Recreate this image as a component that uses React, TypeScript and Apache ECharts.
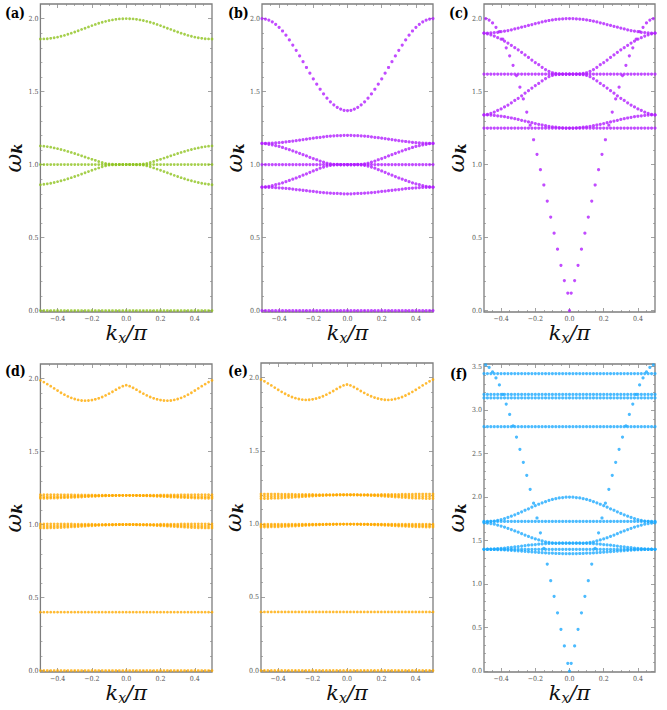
import React, { useEffect, useRef } from "react";
import * as echarts from "echarts";

// ---------- sampling grids ----------
const kHalf = [0, 0.02, 0.04, 0.06, 0.08, 0.1, 0.12, 0.14, 0.16, 0.18, 0.2, 0.22, 0.24, 0.26, 0.28, 0.3, 0.32, 0.34, 0.36, 0.38, 0.4, 0.42, 0.44, 0.46, 0.48, 0.5];
const kOdd = [0.01, 0.03, 0.05, 0.07, 0.09, 0.11, 0.13, 0.15, 0.17, 0.19, 0.21, 0.23, 0.25, 0.27, 0.29, 0.31, 0.33, 0.35, 0.37, 0.39, 0.41, 0.43, 0.45, 0.47, 0.49];

// ---------- tick labels ----------
const xMajor = [-0.4, -0.2, 0, 0.2, 0.4];
const xMinor = [-0.45, -0.35, -0.3, -0.25, -0.15, -0.1, -0.05, 0.05, 0.1, 0.15, 0.25, 0.3, 0.35, 0.45];
const yMajor2 = [0, 0.5, 1, 1.5, 2];
const yMinor2 = [0.1, 0.2, 0.3, 0.4, 0.6, 0.7, 0.8, 0.9, 1.1, 1.2, 1.3, 1.4, 1.6, 1.7, 1.8, 1.9];
const yMajor35 = [0, 0.5, 1, 1.5, 2, 2.5, 3, 3.5];
const yMinor35 = [0.1, 0.2, 0.3, 0.4, 0.6, 0.7, 0.8, 0.9, 1.1, 1.2, 1.3, 1.4, 1.6, 1.7, 1.8, 1.9, 2.1, 2.2, 2.3, 2.4, 2.6, 2.7, 2.8, 2.9, 3.1, 3.2, 3.3, 3.4];

// ---------- panel (a) : omega at kHalf (mirrored for k<0) ----------
const aTop = [2.000, 1.999, 1.998, 1.995, 1.991, 1.987, 1.981, 1.975, 1.968, 1.960, 1.952, 1.943, 1.934, 1.926, 1.917, 1.908, 1.900, 1.893, 1.885, 1.879, 1.873, 1.869, 1.865, 1.862, 1.861, 1.860];
const aUpper = [1.000, 1.000, 1.000, 1.001, 1.002, 1.004, 1.008, 1.014, 1.021, 1.029, 1.036, 1.044, 1.052, 1.060, 1.068, 1.076, 1.083, 1.090, 1.097, 1.103, 1.109, 1.114, 1.119, 1.123, 1.126, 1.128];
const aLower = [1.000, 1.000, 1.000, 0.999, 0.998, 0.996, 0.991, 0.985, 0.977, 0.969, 0.961, 0.952, 0.944, 0.935, 0.926, 0.918, 0.910, 0.903, 0.895, 0.889, 0.883, 0.877, 0.872, 0.868, 0.865, 0.862];
const aFlat = [1.0, 0.0];

// ---------- panel (b) ----------
const bTop = [1.370, 1.372, 1.380, 1.392, 1.409, 1.430, 1.455, 1.484, 1.516, 1.551, 1.587, 1.626, 1.665, 1.705, 1.744, 1.783, 1.819, 1.854, 1.886, 1.915, 1.940, 1.961, 1.978, 1.990, 1.997, 2.000];
const bHigh = [1.200, 1.200, 1.199, 1.198, 1.197, 1.195, 1.193, 1.190, 1.187, 1.184, 1.181, 1.178, 1.174, 1.171, 1.167, 1.164, 1.161, 1.158, 1.155, 1.152, 1.150, 1.148, 1.147, 1.146, 1.145, 1.145];
const bUpper = [1.000, 1.000, 1.000, 1.001, 1.002, 1.005, 1.009, 1.016, 1.024, 1.033, 1.041, 1.050, 1.059, 1.068, 1.077, 1.086, 1.094, 1.102, 1.110, 1.117, 1.124, 1.129, 1.135, 1.139, 1.143, 1.145];
const bLower = [1.000, 1.000, 1.000, 0.999, 0.998, 0.995, 0.990, 0.983, 0.975, 0.965, 0.956, 0.947, 0.937, 0.927, 0.918, 0.908, 0.900, 0.891, 0.883, 0.875, 0.868, 0.862, 0.856, 0.851, 0.847, 0.845];
const bLow = [0.800, 0.800, 0.801, 0.802, 0.803, 0.804, 0.806, 0.808, 0.810, 0.813, 0.816, 0.818, 0.821, 0.824, 0.827, 0.829, 0.832, 0.835, 0.837, 0.839, 0.841, 0.842, 0.843, 0.844, 0.845, 0.845];
const bFlat = [1.0, 0.0];

// ---------- panel (c) ----------
const cTop = [2.000, 2.000, 1.998, 1.997, 1.994, 1.991, 1.987, 1.982, 1.977, 1.971, 1.966, 1.959, 1.953, 1.947, 1.941, 1.935, 1.929, 1.923, 1.918, 1.914, 1.910, 1.906, 1.904, 1.902, 1.900, 1.900];
const cUpper = [1.620, 1.620, 1.620, 1.622, 1.624, 1.629, 1.638, 1.651, 1.666, 1.684, 1.699, 1.716, 1.734, 1.751, 1.769, 1.786, 1.801, 1.817, 1.832, 1.845, 1.859, 1.869, 1.880, 1.889, 1.896, 1.900];
const cLower = [1.620, 1.620, 1.620, 1.618, 1.616, 1.611, 1.602, 1.589, 1.574, 1.556, 1.541, 1.524, 1.506, 1.489, 1.471, 1.454, 1.439, 1.423, 1.408, 1.395, 1.381, 1.371, 1.360, 1.351, 1.344, 1.340];
const cLow = [1.250, 1.250, 1.251, 1.253, 1.256, 1.259, 1.262, 1.266, 1.271, 1.276, 1.281, 1.287, 1.292, 1.298, 1.303, 1.309, 1.314, 1.319, 1.324, 1.328, 1.331, 1.334, 1.337, 1.339, 1.340, 1.340];
const cFlat = [1.62, 1.25];
const cSteep = [0.12, 0.205, 0.31, 0.42, 0.53, 0.64, 0.75, 0.86, 0.965, 1.07, 1.17, 1.27, 1.36, 1.45, 1.53, 1.61, 1.68, 1.745, 1.80, 1.86, 1.91, 1.94, 1.97, 1.99, 2.0];
const cSteepZero = 0.0;

// ---------- panel (d) ----------
const dTop = [1.955, 1.948, 1.937, 1.924, 1.910, 1.897, 1.885, 1.874, 1.865, 1.858, 1.853, 1.850, 1.849, 1.850, 1.854, 1.860, 1.868, 1.878, 1.890, 1.903, 1.918, 1.933, 1.948, 1.962, 1.976, 1.988];
const dHighA = [1.200, 1.200, 1.200, 1.200, 1.200, 1.200, 1.201, 1.201, 1.201, 1.201, 1.202, 1.202, 1.202, 1.203, 1.203, 1.203, 1.204, 1.204, 1.204, 1.204, 1.205, 1.205, 1.205, 1.205, 1.205, 1.205];
const dHighB = [1.200, 1.200, 1.200, 1.200, 1.199, 1.199, 1.199, 1.198, 1.198, 1.197, 1.197, 1.196, 1.195, 1.195, 1.194, 1.193, 1.193, 1.192, 1.192, 1.191, 1.191, 1.191, 1.190, 1.190, 1.190, 1.190];
const dHighC = [1.200, 1.200, 1.200, 1.199, 1.199, 1.198, 1.197, 1.196, 1.195, 1.194, 1.193, 1.192, 1.191, 1.189, 1.188, 1.187, 1.186, 1.185, 1.184, 1.183, 1.182, 1.181, 1.181, 1.180, 1.180, 1.180];
const dMidA = [1.000, 1.000, 1.000, 1.000, 1.000, 1.000, 1.001, 1.001, 1.001, 1.001, 1.002, 1.002, 1.002, 1.003, 1.003, 1.003, 1.004, 1.004, 1.004, 1.004, 1.005, 1.005, 1.005, 1.005, 1.005, 1.005];
const dMidB = [1.000, 1.000, 1.000, 1.000, 0.999, 0.999, 0.999, 0.998, 0.998, 0.997, 0.997, 0.996, 0.995, 0.995, 0.994, 0.993, 0.993, 0.992, 0.992, 0.991, 0.991, 0.991, 0.990, 0.990, 0.990, 0.990];
const dMidC = [1.000, 1.000, 1.000, 0.999, 0.999, 0.998, 0.997, 0.996, 0.995, 0.993, 0.992, 0.991, 0.989, 0.988, 0.986, 0.985, 0.984, 0.982, 0.981, 0.980, 0.979, 0.978, 0.978, 0.977, 0.977, 0.977];
const dFlat = [0.4, 0.0];

// ---------- panel (e) ----------
const eTop = [1.953, 1.947, 1.936, 1.923, 1.909, 1.896, 1.884, 1.873, 1.864, 1.857, 1.852, 1.849, 1.848, 1.850, 1.854, 1.860, 1.868, 1.878, 1.890, 1.903, 1.917, 1.932, 1.947, 1.961, 1.975, 1.987];
const eHighA = [1.200, 1.200, 1.200, 1.200, 1.200, 1.200, 1.201, 1.201, 1.201, 1.201, 1.202, 1.202, 1.202, 1.203, 1.203, 1.203, 1.204, 1.204, 1.204, 1.204, 1.205, 1.205, 1.205, 1.205, 1.205, 1.205];
const eHighB = [1.200, 1.200, 1.200, 1.200, 1.199, 1.199, 1.199, 1.198, 1.198, 1.197, 1.197, 1.196, 1.195, 1.195, 1.194, 1.193, 1.193, 1.192, 1.192, 1.191, 1.191, 1.191, 1.190, 1.190, 1.190, 1.190];
const eHighC = [1.200, 1.200, 1.200, 1.199, 1.198, 1.198, 1.197, 1.195, 1.194, 1.193, 1.191, 1.190, 1.188, 1.187, 1.185, 1.184, 1.182, 1.181, 1.180, 1.178, 1.177, 1.177, 1.176, 1.175, 1.175, 1.175];
const eMidB = [1.000, 1.000, 1.000, 1.000, 0.999, 0.999, 0.999, 0.998, 0.998, 0.997, 0.997, 0.996, 0.995, 0.995, 0.994, 0.993, 0.993, 0.992, 0.992, 0.991, 0.991, 0.991, 0.990, 0.990, 0.990, 0.990];
const eMidC = [1.000, 1.000, 1.000, 0.999, 0.999, 0.998, 0.997, 0.996, 0.995, 0.994, 0.993, 0.992, 0.991, 0.989, 0.988, 0.987, 0.986, 0.985, 0.984, 0.983, 0.982, 0.981, 0.981, 0.980, 0.980, 0.980];
const eFlat = [1.0, 0.4, 0.0];

// ---------- panel (f) ----------
const fTop = [2.000, 1.999, 1.995, 1.990, 1.982, 1.973, 1.962, 1.948, 1.934, 1.918, 1.902, 1.884, 1.866, 1.849, 1.831, 1.813, 1.797, 1.781, 1.767, 1.753, 1.742, 1.733, 1.725, 1.720, 1.716, 1.715];
const fUpper = [1.470, 1.470, 1.470, 1.471, 1.472, 1.475, 1.479, 1.486, 1.496, 1.508, 1.519, 1.533, 1.548, 1.564, 1.580, 1.597, 1.611, 1.627, 1.642, 1.656, 1.667, 1.679, 1.689, 1.696, 1.701, 1.705];
const fLower = [1.470, 1.470, 1.470, 1.470, 1.469, 1.469, 1.467, 1.465, 1.462, 1.459, 1.455, 1.451, 1.447, 1.442, 1.437, 1.432, 1.428, 1.423, 1.419, 1.415, 1.411, 1.408, 1.405, 1.403, 1.401, 1.400];
const fBottom = [1.350, 1.350, 1.351, 1.352, 1.353, 1.355, 1.357, 1.359, 1.362, 1.364, 1.367, 1.370, 1.373, 1.377, 1.380, 1.383, 1.386, 1.388, 1.391, 1.393, 1.395, 1.397, 1.398, 1.399, 1.400, 1.400];
const fFlat = [3.42, 3.18, 3.14, 2.81, 1.72, 1.40];
const fSteep = [0.09, 0.29, 0.48, 0.67, 0.86, 1.04, 1.23, 1.41, 1.59, 1.76, 1.93, 2.09, 2.25, 2.40, 2.55, 2.69, 2.82, 2.95, 3.07, 3.18, 3.29, 3.37, 3.44, 3.49, 3.52];
const fSteepZero = 0.0;

// ---------- helpers ----------
function band(half: number[]): number[][] {
  const pts: number[][] = [];
  for (let i = half.length - 1; i >= 1; i--) pts.push([-kHalf[i], half[i]]);
  for (let i = 0; i < half.length; i++) pts.push([kHalf[i], half[i]]);
  return pts;
}
function flat(levels: number[]): number[][] {
  const pts: number[][] = [];
  levels.forEach((lv) => {
    for (let i = kHalf.length - 1; i >= 1; i--) pts.push([-kHalf[i], lv]);
    for (let i = 0; i < kHalf.length; i++) pts.push([kHalf[i], lv]);
  });
  return pts;
}
function steep(vals: number[], zero: number): number[][] {
  const pts: number[][] = [[0, zero]];
  vals.forEach((v, i) => {
    pts.push([-kOdd[i], v]);
    pts.push([kOdd[i], v]);
  });
  return pts;
}

const GREEN = "#8fc31f";
const PURPLE = "#b21eff";
const ORANGE = "#ffaa00";
const BLUE = "#1eaaff";

const panels = [
  { label: "(a)", color: GREEN, size: 2.8, ymax: 2.1, yMaj: yMajor2, yMin: yMinor2,
    data: [...band(aTop), ...band(aUpper), ...band(aLower), ...flat(aFlat)],
    grid: { left: 39, top: 4, width: 173, height: 308 }, lx: 5, ly: 6 },
  { label: "(b)", color: PURPLE, size: 3.2, ymax: 2.1, yMaj: yMajor2, yMin: yMinor2,
    data: [...band(bTop), ...band(bHigh), ...band(bUpper), ...band(bLower), ...band(bLow), ...flat(bFlat)],
    grid: { left: 262, top: 4, width: 171, height: 308 }, lx: 228, ly: 6 },
  { label: "(c)", color: PURPLE, size: 3.2, ymax: 2.1, yMaj: yMajor2, yMin: yMinor2,
    data: [...band(cTop), ...band(cUpper), ...band(cLower), ...band(cLow), ...flat(cFlat), ...steep(cSteep, cSteepZero)],
    grid: { left: 484, top: 4, width: 171, height: 308 }, lx: 449, ly: 6 },
  { label: "(d)", color: ORANGE, size: 2.8, ymax: 2.1, yMaj: yMajor2, yMin: yMinor2,
    data: [...band(dTop), ...band(dHighA), ...band(dHighB), ...band(dHighC), ...band(dMidA), ...band(dMidB), ...band(dMidC), ...flat(dFlat)],
    grid: { left: 39, top: 364, width: 173, height: 308 }, lx: 5, ly: 364 },
  { label: "(e)", color: ORANGE, size: 2.8, ymax: 2.1, yMaj: yMajor2, yMin: yMinor2,
    data: [...band(eTop), ...band(eHighA), ...band(eHighB), ...band(eHighC), ...band(eMidB), ...band(eMidC), ...flat(eFlat)],
    grid: { left: 261, top: 363, width: 172, height: 309 }, lx: 228, ly: 364 },
  { label: "(f)", color: BLUE, size: 3.2, ymax: 3.53, yMaj: yMajor35, yMin: yMinor35,
    data: [...band(fTop), ...band(fUpper), ...band(fLower), ...band(fBottom), ...flat(fFlat), ...steep(fSteep, fSteepZero)],
    grid: { left: 484, top: 364, width: 171, height: 308 }, lx: 450, ly: 367 },
];

const FRAME = "#7d7d7d";
const TICK = "#8a8a8a";
const SERIF = "DejaVu Serif";
const SERIF_C = "DejaVu Serif Condensed";

const fmt = (v: number) => (v < 0 ? "\u2212" : "") + Math.abs(v).toFixed(1);

function buildOption() {
  const grid: any[] = [];
  const xAxis: any[] = [];
  const yAxis: any[] = [];
  const series: any[] = [];
  const graphic: any[] = [];

  panels.forEach((p, i) => {
    grid.push({ ...p.grid, show: true, borderColor: FRAME, borderWidth: 1.3, backgroundColor: "#fff", containLabel: false });
    const xBase = { gridIndex: i, type: "value", min: -0.5, max: 0.5, splitLine: { show: false }, axisLine: { show: false, onZero: false } };
    const yBase = { gridIndex: i, type: "value", min: -0.01, max: p.ymax, splitLine: { show: false }, axisLine: { show: false, onZero: false } };
    // x axes
    xAxis.push({
      ...xBase, position: "bottom",
      axisTick: { inside: true, length: 4, customValues: xMajor, lineStyle: { color: TICK, width: 0.8 } },
      axisLabel: { customValues: xMajor, formatter: fmt, fontSize: 7, color: "#555", fontFamily: SERIF_C, margin: 3 },
      name: "{k|k}{s|x}{p|/π}", nameLocation: "middle", nameGap: 6,
      nameTextStyle: {
        rich: {
          k: { fontFamily: SERIF, fontStyle: "italic", fontSize: 21, lineHeight: 24, color: "#111", verticalAlign: "middle" },
          s: { fontFamily: SERIF, fontStyle: "italic", fontSize: 14, lineHeight: 14, color: "#111", verticalAlign: "bottom" },
          p: { fontFamily: SERIF, fontStyle: "italic", fontSize: 21, lineHeight: 24, color: "#111", verticalAlign: "middle" },
        },
      },
    });
    xAxis.push({ ...xBase, position: "bottom", axisTick: { inside: true, length: 2, customValues: xMinor, lineStyle: { color: TICK, width: 0.7 } }, axisLabel: { show: false } });
    xAxis.push({ ...xBase, position: "top", axisTick: { inside: true, length: 4, customValues: xMajor, lineStyle: { color: TICK, width: 0.8 } }, axisLabel: { show: false } });
    xAxis.push({ ...xBase, position: "top", axisTick: { inside: true, length: 2, customValues: xMinor, lineStyle: { color: TICK, width: 0.7 } }, axisLabel: { show: false } });
    // y axes
    yAxis.push({
      ...yBase, position: "left",
      axisTick: { inside: true, length: 4, customValues: p.yMaj, lineStyle: { color: TICK, width: 0.8 } },
      axisLabel: { customValues: p.yMaj, formatter: fmt, fontSize: 7, color: "#555", fontFamily: SERIF_C, margin: 2 },
      name: "{w|ω}{k|k}", nameLocation: "middle", nameRotate: 90, nameGap: 14,
      nameTextStyle: {
        rich: {
          w: { fontFamily: SERIF, fontStyle: "italic", fontSize: 23, lineHeight: 24, color: "#111", verticalAlign: "middle" },
          k: { fontFamily: SERIF, fontStyle: "italic", fontWeight: "bold", fontSize: 15, lineHeight: 14, color: "#111", verticalAlign: "bottom" },
        },
      },
    });
    yAxis.push({ ...yBase, position: "left", axisTick: { inside: true, length: 2, customValues: p.yMin, lineStyle: { color: TICK, width: 0.7 } }, axisLabel: { show: false } });
    yAxis.push({ ...yBase, position: "right", axisTick: { inside: true, length: 4, customValues: p.yMaj, lineStyle: { color: TICK, width: 0.8 } }, axisLabel: { show: false } });
    yAxis.push({ ...yBase, position: "right", axisTick: { inside: true, length: 2, customValues: p.yMin, lineStyle: { color: TICK, width: 0.7 } }, axisLabel: { show: false } });

    series.push({
      type: "scatter", xAxisIndex: 4 * i, yAxisIndex: 4 * i, symbol: "circle", symbolSize: p.size,
      itemStyle: { color: p.color }, silent: true, data: p.data,
    });

    graphic.push({
      type: "text", left: p.lx, top: p.ly,
      style: { text: p.label, fontFamily: SERIF_C, fontWeight: "bold", fontSize: 14, fill: "#000" },
    });
  });

  return { animation: false, backgroundColor: "#fff", textStyle: { fontFamily: SERIF }, grid, xAxis, yAxis, series, graphic };
}

export default function App() {
  const ref = useRef<HTMLDivElement>(null);
  useEffect(() => {
    if (!ref.current) return;
    const chart = echarts.init(ref.current, undefined, { renderer: "svg" });
    chart.setOption(buildOption());
    return () => chart.dispose();
  }, []);
  return <div ref={ref} style={{ position: "fixed", left: 0, top: 0, width: 667, height: 710, background: "#fff" }} />;
}
